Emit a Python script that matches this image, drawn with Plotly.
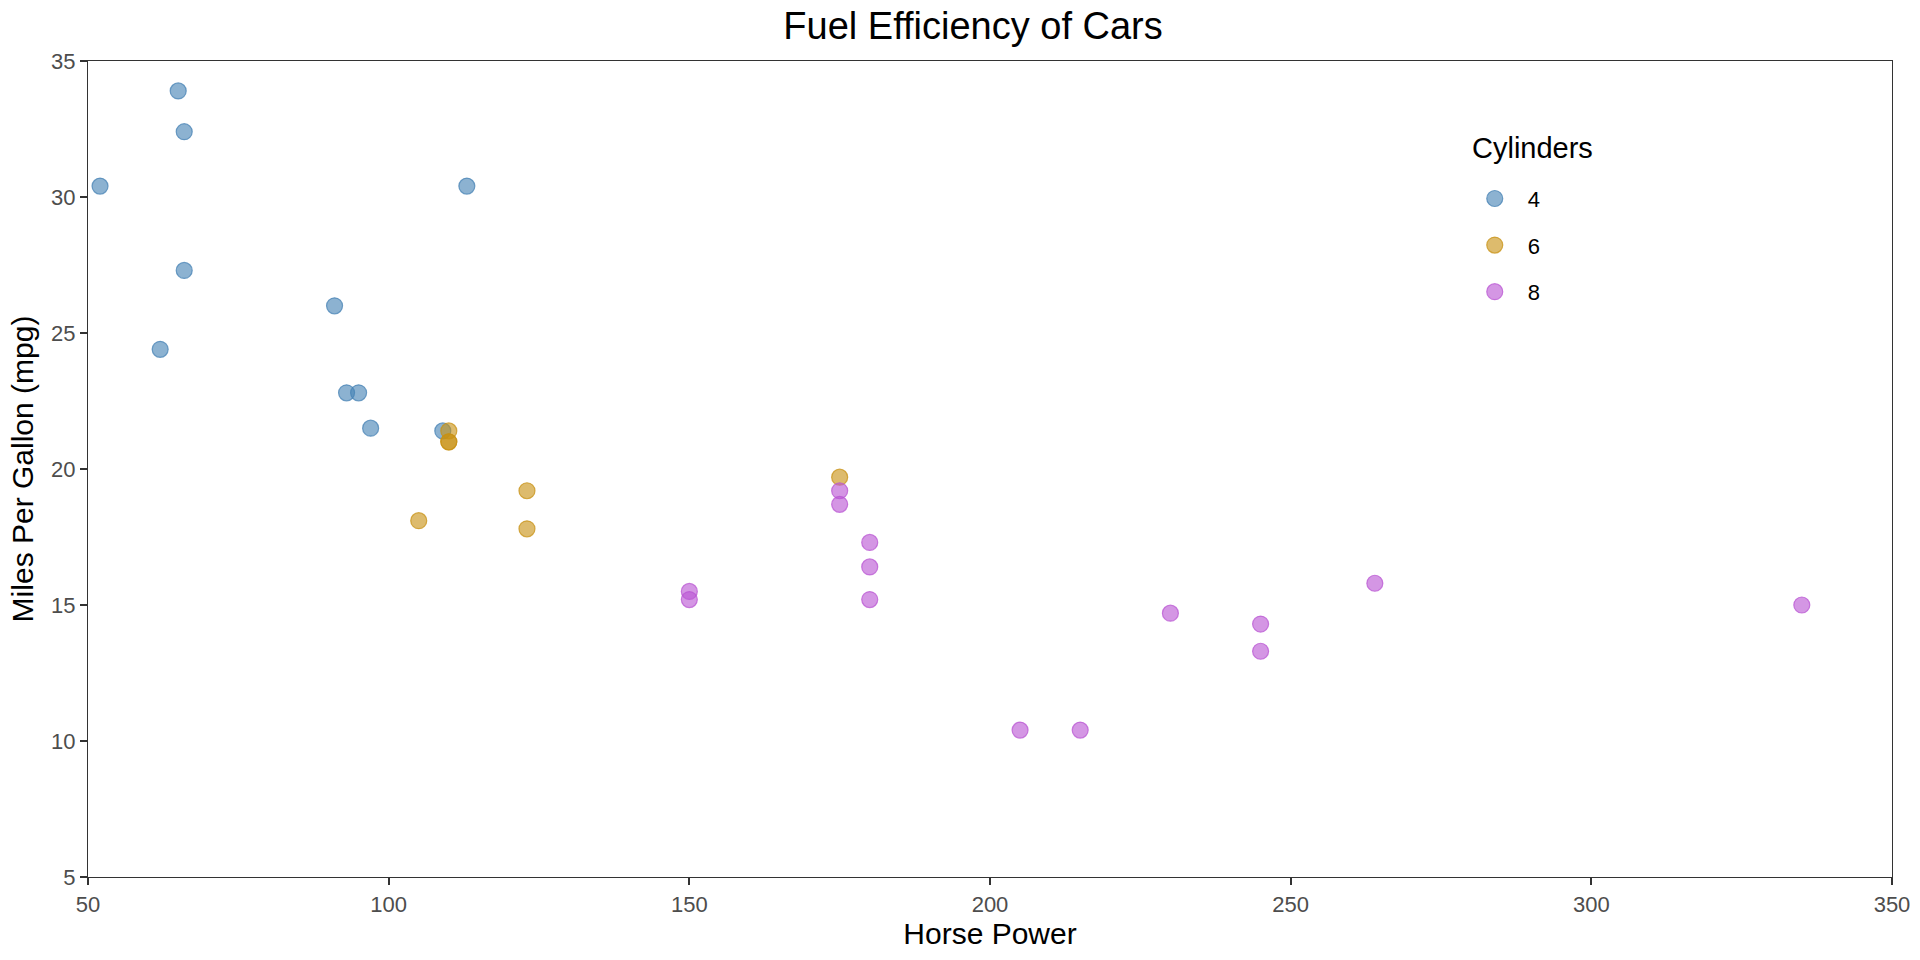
import plotly.graph_objects as go

hp = [110, 110, 93, 110, 175, 105, 245, 62, 95, 123, 123, 180, 180, 180, 205, 215, 230,
      66, 52, 65, 97, 150, 150, 245, 175, 66, 91, 113, 264, 175, 335, 109]
mpg = [21.0, 21.0, 22.8, 21.4, 18.7, 18.1, 14.3, 24.4, 22.8, 19.2, 17.8, 16.4, 17.3, 15.2,
       10.4, 10.4, 14.7, 32.4, 30.4, 33.9, 21.5, 15.5, 15.2, 13.3, 19.2, 27.3, 26.0, 30.4,
       15.8, 19.7, 15.0, 21.4]
cyl = [6, 6, 4, 6, 8, 6, 8, 4, 4, 6, 6, 8, 8, 8, 8, 8, 8, 4, 4, 4, 4, 8, 8, 8, 8, 4, 4, 4,
       8, 6, 8, 4]

groups = [4, 6, 8]
colors = {4: "70,130,180", 6: "200,145,20", 8: "186,85,211"}

x_ticks = [50, 100, 150, 200, 250, 300, 350]
y_ticks = [5, 10, 15, 20, 25, 30, 35]

FONT = "Liberation Sans, Arial, sans-serif"

fig = go.Figure()
for g in groups:
    xs = [h for h, c in zip(hp, cyl) if c == g]
    ys = [m for m, c in zip(mpg, cyl) if c == g]
    col = colors[g]
    fig.add_trace(go.Scatter(
        x=xs, y=ys, mode="markers", name=str(g), legendgroup=str(g),
        marker=dict(size=16, color=f"rgba({col},0.62)",
                    line=dict(width=1.2, color=f"rgba({col},0.75)")),
    ))

axis_common = dict(
    showline=True, linecolor="#333333", linewidth=1.2, mirror=True,
    ticks="outside", ticklen=7, tickwidth=1.5, tickcolor="#333333",
    showgrid=False, zeroline=False, automargin=False,
    tickfont=dict(family=FONT, size=22, color="#4d4d4d"),
)

fig.update_layout(
    width=1920, height=960,
    paper_bgcolor="white", plot_bgcolor="white",
    margin=dict(l=88, r=28, t=61, b=83),
    title=dict(text="Fuel Efficiency of Cars", x=0.4906, xref="paper", xanchor="center",
               y=1 - 26 / 960, yref="container", yanchor="middle",
               font=dict(family=FONT, size=38, color="black")),
    xaxis=dict(range=[50, 350], tickvals=x_ticks,
               title=dict(text="Horse Power", standoff=6,
                          font=dict(family=FONT, size=30, color="black")),
               **axis_common),
    yaxis=dict(range=[5, 35], tickvals=y_ticks,
               title=dict(text="Miles Per Gallon (mpg)", standoff=8,
                          font=dict(family=FONT, size=30, color="black")),
               **axis_common),
    legend=dict(font=dict(family=FONT, size=22, color="black"),
                x=0.7615, y=0.857, xanchor="left", yanchor="top",
                itemwidth=56, tracegroupgap=15, bgcolor="rgba(0,0,0,0)"),
    annotations=[dict(text="Cylinders", xref="paper", yref="paper",
                      x=0.7662, y=0.8934, xanchor="left", yanchor="middle",
                      showarrow=False,
                      font=dict(family=FONT, size=29, color="black"))],
)

fig.write_html("out.html", config={"displayModeBar": False},
               post_script="document.body.style.margin='0';")
